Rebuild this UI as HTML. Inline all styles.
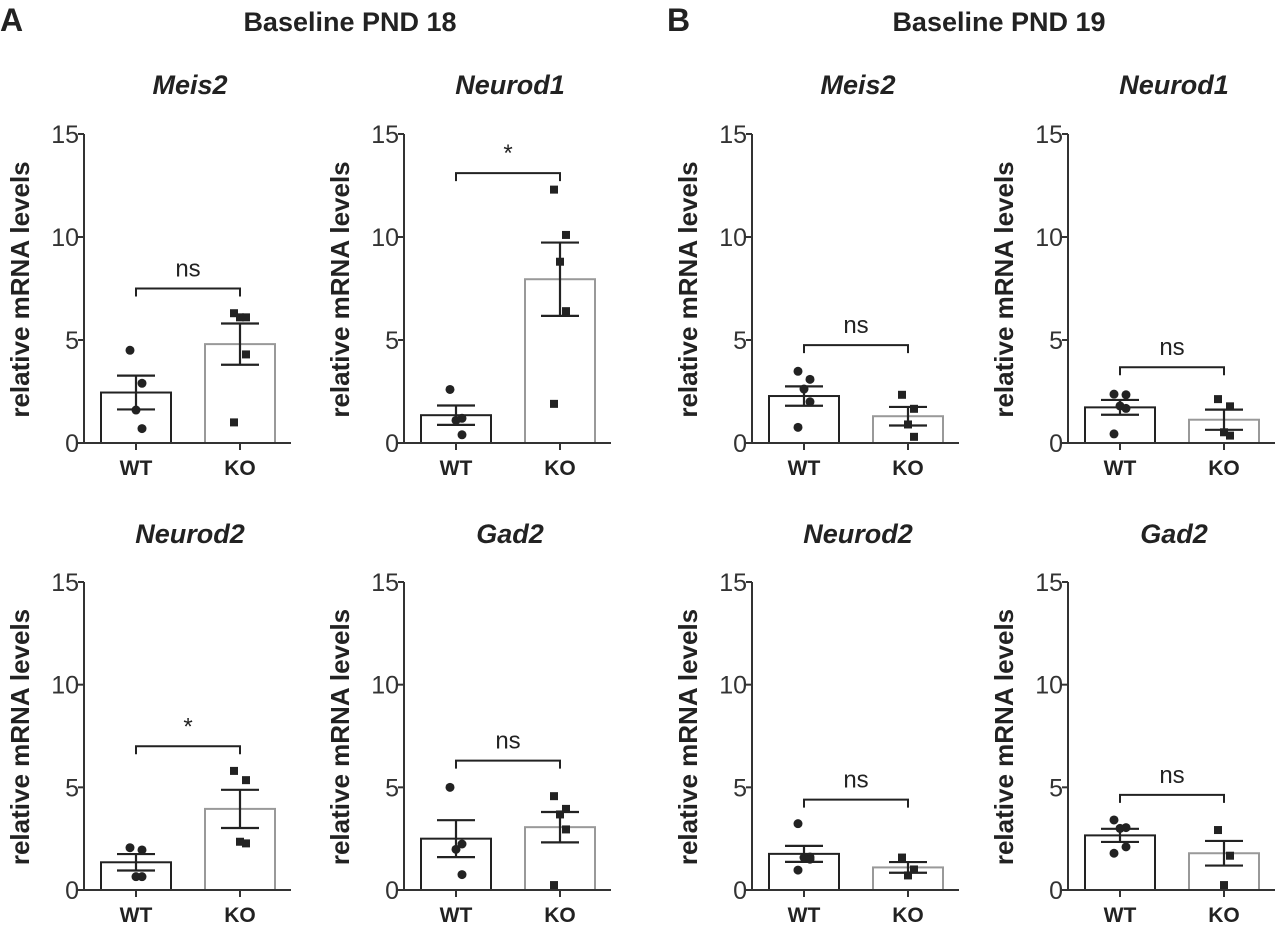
<!DOCTYPE html>
<html><head><meta charset="utf-8"><style>
html,body{margin:0;padding:0;background:#fff;}
svg{display:block;font-family:"Liberation Sans",Arial,sans-serif;}
</style></head><body>
<svg id="fig" width="1280" height="930" viewBox="0 0 1280 930" xmlns="http://www.w3.org/2000/svg">
<text x="0" y="31" font-size="32" font-weight="bold" fill="#222">A</text>
<text x="350" y="31" font-size="27" font-weight="bold" fill="#222" text-anchor="middle">Baseline PND 18</text>
<text x="667" y="31" font-size="32" font-weight="bold" fill="#222">B</text>
<text x="999" y="31" font-size="27" font-weight="bold" fill="#222" text-anchor="middle">Baseline PND 19</text>
</svg>
<script>
const genes = ["Meis2","Neurod1","Neurod2","Gad2","Meis2","Neurod1","Neurod2","Gad2"];
const sigLabels = ["ns","*","*","ns","ns","ns","ns","ns"];
const bracketValues = [7.5,13.1,7.0,6.3,4.75,3.68,4.4,4.63];
const wtMeans = [2.45,1.35,1.35,2.5,2.28,1.73,1.76,2.66];
const wtSem = [0.82,0.47,0.4,0.9,0.47,0.36,0.39,0.32];
const koMeans = [4.8,7.95,3.95,3.06,1.3,1.13,1.1,1.79];
const koSem = [1.0,1.78,0.93,0.74,0.45,0.49,0.26,0.6];
const wtPoints = [[4.5,2.9,1.6,0.7],[2.6,1.2,1.1,0.4],[2.06,1.95,0.65,0.65],[5.0,2.24,1.98,0.75],[3.48,3.09,2.62,2.0,0.76],[2.37,2.34,1.8,1.68,0.44],[3.23,1.61,1.58,1.5,0.97],[3.41,3.04,3.0,2.1,1.79]];
const koPoints = [[6.3,6.1,6.1,4.3,1.0],[12.3,10.1,8.8,6.4,1.9],[5.8,5.35,2.35,2.27],[4.57,3.95,3.68,2.95,0.24],[2.34,1.66,0.9,0.3],[2.13,1.78,0.52,0.36],[1.58,1.0,0.71],[2.92,1.67,0.24]];
const yTicks = [0,5,10,15];
const groups = ["WT","KO"];

const NS="http://www.w3.org/2000/svg";
const svg=document.getElementById('fig');
const axisXs=[84,404,84,404,752,1068,752,1068];
function mk(tag,attrs,parent){const e=document.createElementNS(NS,tag);for(const k in attrs)e.setAttribute(k,attrs[k]);(parent||svg).appendChild(e);return e;}

for(let p=0;p<8;p++){
  const ax=axisXs[p];
  const top=(p%4)<2;
  const y0=top?443:890, y15=top?134:582;
  const Y=v=>y0-(v/15)*(y0-y15);
  const X=gi=>ax+52+gi*104;
  const g=mk('g',{});
  
  
  const t=mk('text',{x:ax+106,y:top?94:543,'font-size':27,'font-weight':'bold','font-style':'italic',fill:'#222','text-anchor':'middle'},g);
  t.textContent=genes[p];
  
  
  const yl=mk('text',{x:0,y:0,'font-size':26,'font-weight':'bold',fill:'#222','text-anchor':'middle',transform:`translate(${ax-55},${(y0+y15)/2+1}) rotate(-90)`},g);
  yl.textContent='relative mRNA levels';
  
  
  const means=[wtMeans[p],koMeans[p]], sems=[wtSem[p],koSem[p]], pts=[wtPoints[p],koPoints[p]];
  for(let gi=0;gi<2;gi++){
    const cx=X(gi);
    const b=mk('rect',{x:cx-35,y:Y(means[gi]),width:70,height:y0-Y(means[gi]),fill:'#fff',stroke:gi?'#999':'#222','stroke-width':2},g);
    
    
    const hi=Y(means[gi]+sems[gi]), lo=Y(means[gi]-sems[gi]);
    const e=mk('path',{d:`M${cx},${hi}V${lo}M${cx-19},${hi}H${cx+19}M${cx-19},${lo}H${cx+19}`,stroke:'#222','stroke-width':2.2,fill:'none'},g);
    
    
    pts[gi].forEach((v,i)=>{
      const dx=(i%2===0?-1:1)*(i%3===2?0:6);
      let m;
      if(gi===0) m=mk('circle',{cx:cx+dx,cy:Y(v),r:4.5,fill:'#222'},g);
      else m=mk('rect',{x:cx+dx-4,y:Y(v)-4,width:8,height:8,fill:'#222'},g);
      
      
    });
    const xl=mk('text',{x:cx,y:y0+32,'font-size':21,'font-weight':'bold',fill:'#222','text-anchor':'middle'},g);
    xl.textContent=groups[gi];
    
    
    const tk=mk('line',{x1:cx,x2:cx,y1:y0,y2:y0+7,stroke:'#333','stroke-width':2},g);
    
    
  }
  const axl=mk('path',{d:`M${ax},${y15}V${y0}H${ax+207}`,stroke:'#333','stroke-width':2,fill:'none'},g);
  
  
  yTicks.forEach(v=>{
    const tl=mk('line',{x1:ax-6,x2:ax,y1:Y(v),y2:Y(v),stroke:'#333','stroke-width':2},g);
    
    
    const tx=mk('text',{x:ax-5,y:Y(v)+9,'font-size':25,fill:'#333','text-anchor':'end'},g);
    tx.textContent=v;
    
    
  });
  const by=Y(bracketValues[p]);
  const br=mk('path',{d:`M${X(0)},${by+8}V${by}H${X(1)}V${by+8}`,stroke:'#222','stroke-width':2,fill:'none'},g);
  
  
  const st=mk('text',{x:(X(0)+X(1))/2,y:by-12,'font-size':24,fill:'#222','text-anchor':'middle'},g);
  st.textContent=sigLabels[p];
  
  
}
</script>
</body></html>
